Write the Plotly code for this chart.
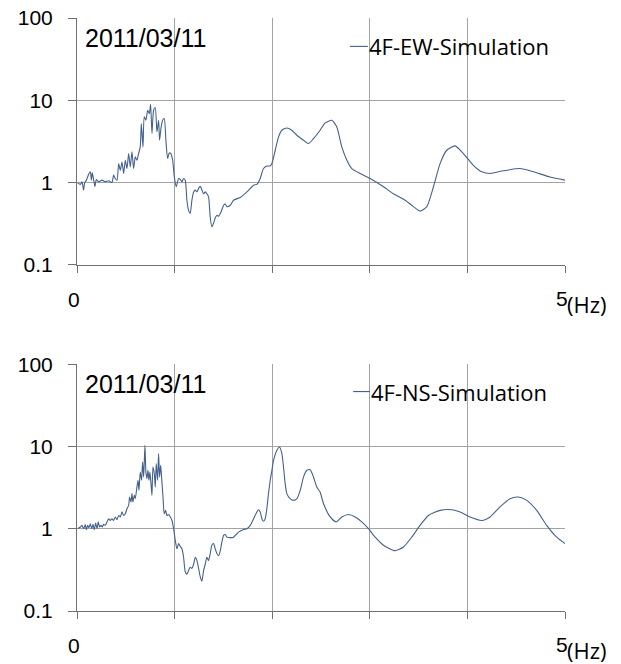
import plotly.graph_objects as go
from plotly.subplots import make_subplots

# Frequency (Hz) and amplification ratio, EW direction
freq_ew = [0.007, 0.034, 0.051, 0.068, 0.078, 0.096, 0.109, 0.123, 0.137, 0.147,
           0.157, 0.171, 0.184, 0.198, 0.222, 0.256, 0.290, 0.324, 0.358, 0.375,
           0.392, 0.410, 0.427, 0.444, 0.461, 0.478, 0.495, 0.512, 0.529, 0.546,
           0.563, 0.580, 0.597, 0.614, 0.631, 0.648, 0.659, 0.676, 0.689, 0.706,
           0.724, 0.741, 0.754, 0.768, 0.785, 0.802, 0.819, 0.836, 0.846, 0.860,
           0.877, 0.894, 0.911, 0.928, 0.945, 0.962, 0.980, 0.997, 1.017, 1.041,
           1.058, 1.075, 1.092, 1.109, 1.126, 1.143, 1.160, 1.177, 1.195, 1.212,
           1.229, 1.246, 1.263, 1.280, 1.297, 1.314, 1.331, 1.348, 1.365, 1.382,
           1.399, 1.416, 1.433, 1.451, 1.468, 1.485, 1.502, 1.519, 1.536, 1.570,
           1.604, 1.672, 1.741, 1.809, 1.843, 1.877, 1.911, 1.945, 1.980, 1.997,
           2.031, 2.065, 2.099, 2.150, 2.201, 2.253, 2.321, 2.372, 2.423, 2.491,
           2.543, 2.611, 2.662, 2.713, 2.765, 2.816, 2.901, 3.003, 3.140, 3.242,
           3.362, 3.447, 3.515, 3.584, 3.652, 3.720, 3.788, 3.874, 3.959, 4.061,
           4.147, 4.232, 4.369, 4.539, 4.676, 4.846, 5.000]
amp_ew = [0.99, 0.95, 1.02, 0.81, 0.99, 1.07, 1.17, 1.29, 1.35, 1.07,
          1.31, 1.07, 0.89, 1.09, 1.02, 1.07, 1.02, 1.05, 1.00, 1.23,
          1.12, 1.07, 1.70, 1.41, 1.78, 1.29, 1.87, 1.48, 2.25, 1.55,
          2.36, 1.48, 2.05, 1.87, 2.25, 2.71, 5.21, 2.71, 6.28, 5.71,
          7.56, 6.89, 8.94, 3.94, 7.56, 8.15, 4.12, 5.71, 3.27, 4.53,
          5.71, 5.99, 3.27, 1.96, 2.29, 2.25, 1.87, 1.17, 0.89, 1.12,
          1.09, 1.02, 1.12, 1.07, 0.61, 0.46, 0.42, 0.61, 0.77, 0.81,
          0.77, 0.85, 0.90, 0.81, 0.73, 0.77, 0.73, 0.67, 0.38, 0.29,
          0.32, 0.37, 0.40, 0.39, 0.42, 0.47, 0.53, 0.55, 0.51, 0.53,
          0.61, 0.66, 0.77, 0.93, 0.95, 1.12, 1.48, 1.59, 1.59, 1.70,
          2.47, 3.59, 4.32, 4.61, 4.32, 3.76, 3.27, 2.98, 3.42, 4.32,
          5.31, 5.71, 4.74, 2.71, 1.87, 1.48, 1.29, 1.12, 0.89, 0.73,
          0.61, 0.51, 0.45, 0.51, 0.89, 1.70, 2.47, 2.79, 2.25, 1.62,
          1.35, 1.29, 1.39, 1.48, 1.35, 1.17, 1.07]

# Frequency (Hz) and amplification ratio, NS direction
freq_ns = [0.007, 0.034, 0.051, 0.068, 0.085, 0.096, 0.109, 0.123, 0.137, 0.150,
           0.164, 0.177, 0.191, 0.205, 0.218, 0.232, 0.246, 0.259, 0.273, 0.290,
           0.307, 0.324, 0.341, 0.358, 0.375, 0.392, 0.410, 0.427, 0.444, 0.461,
           0.478, 0.495, 0.512, 0.529, 0.539, 0.553, 0.563, 0.573, 0.587, 0.597,
           0.614, 0.625, 0.635, 0.648, 0.662, 0.672, 0.683, 0.696, 0.706, 0.717,
           0.727, 0.737, 0.747, 0.758, 0.768, 0.778, 0.792, 0.802, 0.812, 0.826,
           0.836, 0.846, 0.857, 0.867, 0.881, 0.894, 0.908, 0.922, 0.939, 0.956,
           0.973, 0.990, 1.007, 1.024, 1.041, 1.058, 1.075, 1.092, 1.109, 1.126,
           1.143, 1.160, 1.177, 1.195, 1.212, 1.229, 1.246, 1.263, 1.280, 1.297,
           1.314, 1.331, 1.348, 1.365, 1.382, 1.399, 1.416, 1.433, 1.451, 1.468,
           1.485, 1.502, 1.519, 1.536, 1.570, 1.604, 1.655, 1.706, 1.741, 1.775,
           1.809, 1.843, 1.860, 1.877, 1.894, 1.911, 1.928, 1.945, 1.962, 1.980,
           1.997, 2.014, 2.048, 2.075, 2.099, 2.116, 2.133, 2.150, 2.184, 2.218,
           2.253, 2.287, 2.321, 2.355, 2.389, 2.423, 2.457, 2.491, 2.526, 2.594,
           2.655, 2.713, 2.782, 2.850, 2.918, 2.986, 3.055, 3.140, 3.259, 3.345,
           3.430, 3.515, 3.601, 3.720, 3.840, 3.925, 4.027, 4.147, 4.232, 4.334,
           4.437, 4.522, 4.608, 4.710, 4.812, 4.915, 5.000]
amp_ns = [1.00, 1.05, 1.10, 1.00, 1.12, 0.97, 1.10, 1.03, 1.15, 1.00,
          1.13, 0.97, 1.17, 1.00, 1.21, 1.05, 1.10, 1.05, 1.13, 1.10,
          1.21, 1.32, 1.26, 1.32, 1.26, 1.39, 1.29, 1.45, 1.39, 1.60,
          1.45, 1.52, 1.75, 1.92, 2.43, 2.11, 2.67, 2.11, 2.55, 2.32,
          3.21, 3.88, 2.93, 4.89, 3.88, 6.48, 4.26, 10.3, 4.89, 4.06,
          5.13, 3.88, 4.89, 3.53, 2.55, 5.63, 4.67, 3.21, 6.18, 3.88,
          8.18, 4.26, 5.90, 4.18, 2.43, 1.52, 1.67, 1.45, 1.49, 1.39,
          1.26, 1.00, 0.72, 0.57, 0.66, 0.61, 0.57, 0.45, 0.30, 0.28,
          0.31, 0.34, 0.33, 0.37, 0.45, 0.41, 0.33, 0.26, 0.23, 0.31,
          0.37, 0.45, 0.41, 0.50, 0.63, 0.66, 0.57, 0.50, 0.47, 0.54,
          0.69, 0.83, 0.85, 0.79, 0.78, 0.79, 0.91, 0.98, 1.00, 1.10,
          1.32, 1.60, 1.70, 1.60, 1.32, 1.23, 1.32, 1.75, 2.67, 3.88,
          5.13, 6.79, 8.98, 9.86, 8.18, 5.63, 3.53, 2.67, 2.32, 2.21,
          2.32, 2.93, 4.26, 5.13, 5.22, 4.26, 3.21, 2.79, 2.01, 1.39,
          1.21, 1.39, 1.49, 1.39, 1.21, 1.00, 0.79, 0.63, 0.54, 0.60,
          0.79, 1.10, 1.45, 1.67, 1.70, 1.60, 1.39, 1.26, 1.39, 1.84,
          2.32, 2.43, 2.21, 1.67, 1.10, 0.79, 0.66]

series_names = ["4F-EW-Simulation", "4F-NS-Simulation"]
event_date = "2011/03/11"
y_tickvals = [0.1, 1, 10, 100]
y_ticktext = ["0.1", "1", "10", "100"]

LINE_COLOR = "#44618b"
GRID_COLOR = "#a3a3a3"
AXIS_COLOR = "#707070"
TICK_FONT = dict(family="Liberation Sans, Arial", size=21, color="#000000")
LEGEND_FONT = dict(family="Open Sans", size=22, color="#000000")

fig = make_subplots(rows=2, cols=1, vertical_spacing=0.1675)

for row, (fx, fy, name) in enumerate(
        [(freq_ew, amp_ew, series_names[0]), (freq_ns, amp_ns, series_names[1])], start=1):
    fig.add_trace(go.Scatter(x=fx, y=fy, mode="lines", name=name,
                             line=dict(color=LINE_COLOR, width=1.1, shape="spline", smoothing=0.6),
                             showlegend=False), row=row, col=1)

for row in (1, 2):
    fig.update_xaxes(range=[0, 5], dtick=1, tick0=0, showgrid=True, gridcolor=GRID_COLOR,
                     gridwidth=1, showline=True, linecolor=AXIS_COLOR, linewidth=1,
                     ticks="outside", ticklen=7, tickcolor=AXIS_COLOR, automargin=False,
                     showticklabels=False, zeroline=False, row=row, col=1)
    fig.update_yaxes(type="log", range=[-1, 2], tickvals=y_tickvals, ticktext=y_ticktext,
                     showgrid=True, gridcolor=GRID_COLOR, gridwidth=1,
                     showline=True, linecolor=AXIS_COLOR, linewidth=1,
                     ticks="outside", ticklen=8, tickcolor=AXIS_COLOR, automargin=False,
                     tickfont=TICK_FONT, ticklabelstandoff=11, zeroline=False,
                     row=row, col=1)

# Date label, legend swatch and text, and x-axis end labels per panel
panel_refs = [("x", "y"), ("x2", "y2")]
legend_y = [0.885, 0.889]
legend_x0 = [0.559, 0.566]
legend_x1 = [0.596, 0.600]
for i, (xr, yr) in enumerate(panel_refs):
    xd, yd = f"{xr} domain", f"{yr} domain"
    fig.add_annotation(xref=xd, yref=yd, x=0.012, y=0.92, text=event_date,
                       showarrow=False, xanchor="left", yanchor="middle",
                       font=dict(family="Liberation Sans, Arial", size=25, color="#000000"))
    fig.add_shape(type="line", xref=xd, yref=yd, x0=legend_x0[i], x1=legend_x1[i],
                  y0=legend_y[i], y1=legend_y[i], line=dict(color=LINE_COLOR, width=1.1))
    fig.add_annotation(xref=xd, yref=yd, x=legend_x1[i], y=legend_y[i], text=series_names[i],
                       showarrow=False, xanchor="left", yanchor="middle", xshift=-1,
                       font=LEGEND_FONT)
    fig.add_annotation(xref=xd, yref=yd, x=0, y=0, text="0", showarrow=False,
                       xanchor="center", yanchor="top", yshift=-21, xshift=-3, font=TICK_FONT)
    fig.add_annotation(xref=xd, yref=yd, x=1, y=0, text="5", showarrow=False,
                       xanchor="center", yanchor="top", yshift=-20, xshift=-3, font=TICK_FONT)
    fig.add_annotation(xref=xd, yref=yd, x=1, y=0, text="(Hz)", showarrow=False,
                       xanchor="left", yanchor="top", yshift=-22, xshift=0, font=LEGEND_FONT)

fig.update_layout(width=621, height=664, margin=dict(l=77, r=56, t=18, b=53),
                  paper_bgcolor="#ffffff", plot_bgcolor="#ffffff", showlegend=False)

fig.write_html("out.html")
